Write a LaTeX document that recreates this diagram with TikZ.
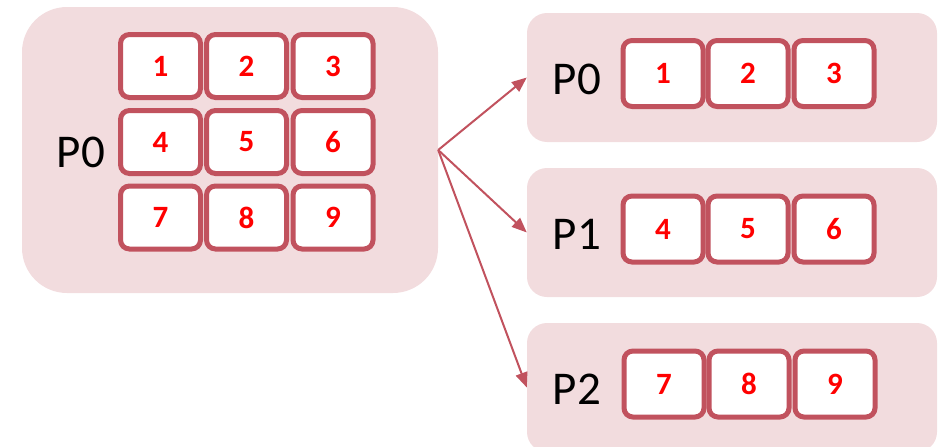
\documentclass[tikz,border=0pt]{standalone}
\usepackage{fontspec}
\setmainfont{Carlito}
\usetikzlibrary{arrows.meta}
\definecolor{accent}{HTML}{C1525E}
\definecolor{panelfill}{HTML}{F2DCDE}
\tikzset{
  panel/.style={fill=panelfill, draw=none, inner sep=0pt},
  cellbox/.style={draw=accent, line width=5pt, fill=white, rounded corners=9pt,
    inner sep=0pt, text=red, font=\fontsize{31}{32}\selectfont\bfseries},
  bigcell/.style={cellbox, minimum width=80pt, minimum height=63pt},
  rowcell/.style={cellbox, minimum width=80pt, minimum height=66pt},
  plabel/.style={font=\fontsize{47}{48}\selectfont, text=black, inner sep=0pt},
  split/.style={draw=accent, line width=2pt, -{Triangle[length=15pt,width=12pt]}}
}
\begin{document}
\begin{tikzpicture}[x=1pt,y=-1pt]
\useasboundingbox (0,0) rectangle (951,447);
\clip (0,0) rectangle (951,447);

% source process holding the full 3x3 block
\node[panel, rounded corners=45pt, minimum width=416pt, minimum height=286pt] (big) at (230,150) {};
\node[plabel] (bigP) at (81,152) {P0};
\foreach \n/\cx/\cy in {1/160.5/66, 2/246.5/66, 3/333/66,
                        4/160.5/142, 5/246.5/142, 6/333/142,
                        7/160.5/217.5, 8/246.5/217.5, 9/333/217.5}
  \node[bigcell] (b\n) at (\cx,\cy) {\n};

% destination processes, one row each
\foreach \p/\cy in {0/77.5, 1/232.5, 2/387.5}
  \node[panel, rounded corners=20pt, minimum width=410pt, minimum height=129pt] (r\p) at (732,\cy) {};

\node[plabel] (l0) at (577,79) {P0};
\node[plabel] (l1) at (577,234) {P1};
\node[plabel] (l2) at (577,389) {P2};

\foreach \n/\cx/\cy in {1/663/73.5, 2/748/73.5, 3/834/73.5,
                        4/663/229, 5/748/229, 6/834/229,
                        7/664/384, 8/749/384, 9/835/384}
  \node[rowcell] (c\n) at (\cx,\cy) {\n};

% scatter arrows
\draw[split] (big.east) -- (r0.west);
\draw[split] (big.east) -- (r1.west);
\draw[split] (big.east) -- (r2.west);
\end{tikzpicture}
\end{document}
